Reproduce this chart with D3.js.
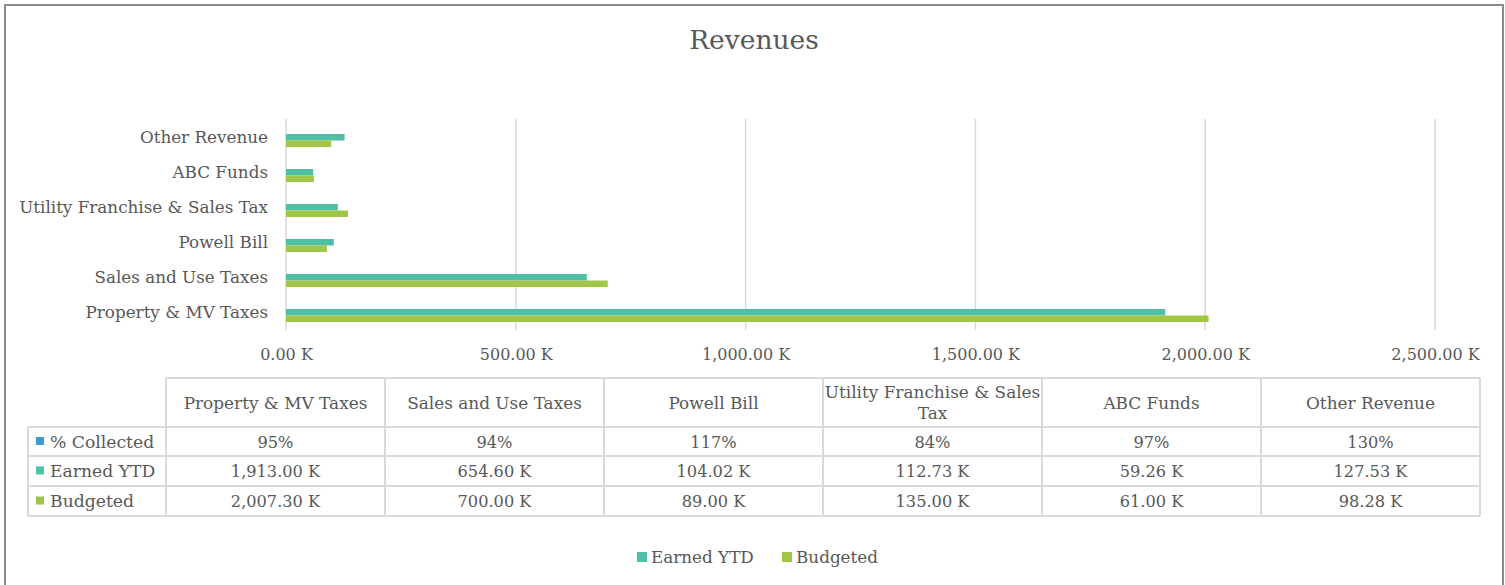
<!DOCTYPE html>
<html><head><meta charset="utf-8">
<script src="https://cdn.jsdelivr.net/npm/d3@7"></script>
<style>body{margin:0;background:#fff}text{font-family:"DejaVu Serif",serif;fill:#585858}</style>
</head><body><svg id="c" width="1505" height="585"></svg>
<script>
const categories = ["Property & MV Taxes","Sales and Use Taxes","Powell Bill","Utility Franchise & Sales Tax","ABC Funds","Other Revenue"];
const earnedYTD = [1913.00, 654.60, 104.02, 112.73, 59.26, 127.53];
const budgeted = [2007.30, 700.00, 89.00, 135.00, 61.00, 98.28];
const pctCollected = [95, 94, 117, 84, 97, 130];
const xTicks = [0, 500, 1000, 1500, 2000, 2500];
const seriesNames = ["Earned YTD", "Budgeted"];
const colors = {"% Collected":"#3f9bd1","Earned YTD":"#4fbfa5","Budgeted":"#a1c546"};

const svg = d3.select("#c");
svg.append("rect").attr("x",5).attr("y",5).attr("width",1498).attr("height",590)
  .attr("fill","#fff").attr("stroke","#8a8a8a").attr("stroke-width",2);

svg.append("text").attr("x",754).attr("y",49).attr("text-anchor","middle")
  .attr("font-size",26.5).text("Revenues");

const fmtK = d => d3.format(",.2f")(d) + " K";
const x = d3.scaleLinear().domain([0,2500]).range([286,1435]);
const y = d3.scaleBand().domain(categories.slice().reverse()).range([123,333]).paddingInner(0).paddingOuter(0);
const sub = d3.scaleBand().domain(seriesNames).range([-6.5,6.5]);

// gridlines
svg.append("g").selectAll("line").data(xTicks).join("line")
  .attr("x1",d=>x(d)).attr("x2",d=>x(d)).attr("y1",119).attr("y2",330)
  .attr("stroke","#d9d9d9").attr("stroke-width",1.5);

// x axis labels
const xa = svg.append("g").attr("transform","translate(0,330)")
  .call(d3.axisBottom(x).tickValues(xTicks).tickFormat(fmtK).tickSize(0).tickPadding(0));
xa.select(".domain").remove();
xa.selectAll("text").attr("y",30).attr("dy",0).attr("font-size",16)
  .style("font-family","'DejaVu Serif',serif").style("fill","#585858");

// y labels
svg.append("g").selectAll("text").data(categories).join("text")
  .attr("x",268).attr("y",d=>y(d)+y.bandwidth()/2).attr("dy","0.15em")
  .attr("text-anchor","end").attr("font-size",16.8).text(d=>d);

// bars
const series = [earnedYTD, budgeted];
seriesNames.forEach((s,i)=>{
  svg.append("g").selectAll("rect").data(categories).join("rect")
    .attr("x",x(0)).attr("y",(d)=>y(d)+y.bandwidth()/2+sub(s))
    .attr("width",(d,j)=>x(series[i][j])-x(0)).attr("height",sub.bandwidth())
    .attr("fill",colors[s]);
});

// table
const tx0 = 28, tx1 = 166, colW = (1480-166)/6;
const rowY = [378, 427, 456, 486, 516];
const g = svg.append("g");
const lc = "#d9d9d9";
g.append("line").attr("x1",tx1).attr("x2",1480).attr("y1",rowY[0]).attr("y2",rowY[0]).attr("stroke",lc).attr("stroke-width",2);
rowY.slice(1).forEach(yy=>g.append("line").attr("x1",tx0).attr("x2",1480).attr("y1",yy).attr("y2",yy).attr("stroke",lc).attr("stroke-width",2));
g.append("line").attr("x1",tx0).attr("x2",tx0).attr("y1",rowY[1]).attr("y2",rowY[4]).attr("stroke",lc).attr("stroke-width",2);
d3.range(7).forEach(i=>g.append("line").attr("x1",tx1+i*colW).attr("x2",tx1+i*colW).attr("y1",rowY[0]).attr("y2",rowY[4]).attr("stroke",lc).attr("stroke-width",2));

const hfs = 16.9, vfs = 16.2;
categories.forEach((c,i)=>{
  const cx = tx1 + colW*(i+0.5);
  const t = g.append("text").attr("x",cx).attr("text-anchor","middle").attr("font-size",hfs);
  const words = c.split(" ");
  let lines=[], cur="";
  const tmp = g.append("text").attr("font-size",hfs);
  words.forEach(w=>{
    const test = cur? cur+" "+w : w;
    tmp.text(test);
    if (tmp.node().getComputedTextLength() > colW-2 && cur){ lines.push(cur); cur=w; } else cur=test;
  });
  lines.push(cur); tmp.remove();
  const mid = (rowY[0]+rowY[1])/2;
  const lh = 21;
  lines.forEach((l,k)=>{
    t.append("tspan").attr("x",cx).attr("y",mid + (k-(lines.length-1)/2)*lh + 6).text(l);
  });
  const vals = [pctCollected[i]+"%", fmtK(earnedYTD[i]), fmtK(budgeted[i])];
  vals.forEach((v,k)=>{
    g.append("text").attr("x",cx).attr("y",(rowY[k+1]+rowY[k+2])/2+6).attr("text-anchor","middle").attr("font-size",vfs).text(v);
  });
});
const rowNames = ["% Collected","Earned YTD","Budgeted"];
rowNames.forEach((r,k)=>{
  const cy = (rowY[k+1]+rowY[k+2])/2;
  g.append("rect").attr("x",36).attr("y",cy-4.5).attr("width",8).attr("height",8).attr("fill",colors[r]);
  g.append("text").attr("x",50).attr("y",cy+6).attr("font-size",17.2).text(r);
});

// legend
const leg = svg.append("g");
const legItems = [{n:"Earned YTD",x:637},{n:"Budgeted",x:782}];
legItems.forEach(it=>{
  leg.append("rect").attr("x",it.x).attr("y",552).attr("width",10).attr("height",10).attr("fill",colors[it.n]);
  leg.append("text").attr("x",it.x+14).attr("y",563).attr("font-size",16.8).text(it.n);
});
</script></body></html>
